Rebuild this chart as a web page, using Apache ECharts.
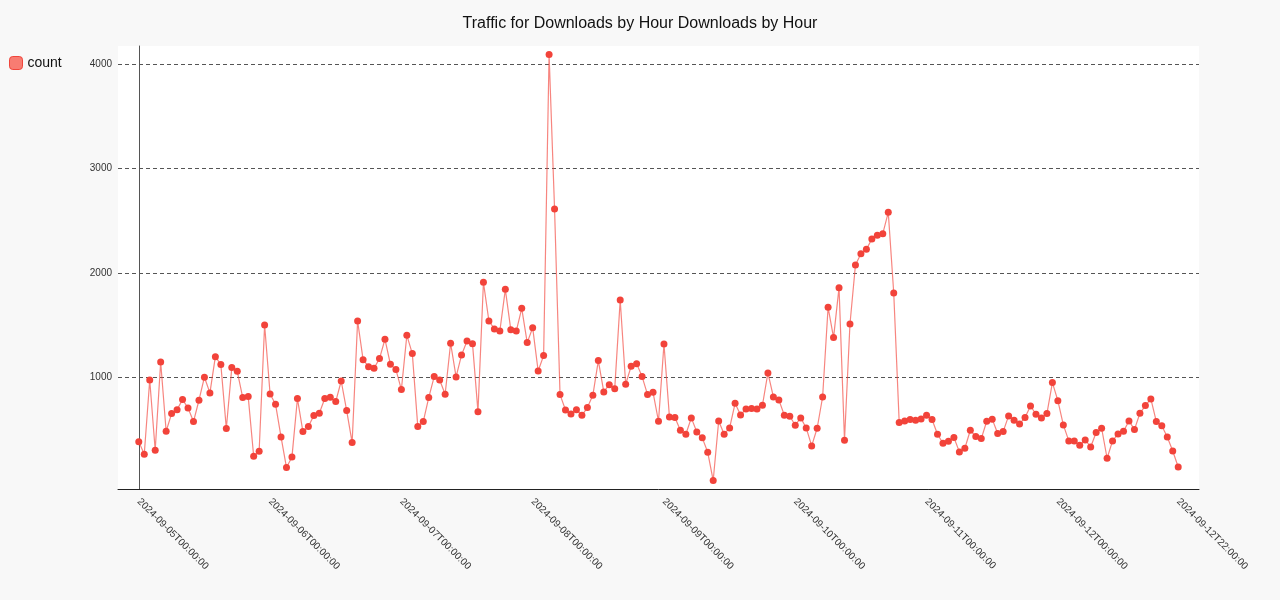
<!DOCTYPE html>
<html>
<head>
<meta charset="utf-8">
<script src="https://cdn.jsdelivr.net/npm/echarts@6/dist/echarts.min.js"></script>
<style>
html,body{margin:0;padding:0;background:#f8f8f8;}
#chart{width:1280px;height:600px;}
</style>
</head>
<body>
<div id="chart"></div>
<script>
// Hourly download counts, one array per day (index = hour of day)
const sep05 = [388,267,978,306,1150,487,656,694,790,710,580,784,1004,854,1201,1125,513,1096,1061,809,819,248,296,1504];
const sep06 = [844,745,433,140,242,800,484,532,637,659,800,812,771,968,685,379,1542,1172,1105,1090,1182,1367,1128,1077];
const sep07 = [886,1405,1230,532,580,809,1010,978,841,1329,1007,1217,1351,1325,675,1912,1542,1466,1446,1845,1459,1446,1663,1335];
const sep08 = [1478,1064,1211,4091,2613,838,691,653,694,640,714,831,1163,863,933,895,1743,937,1109,1134,1010,838,860,583];
const sep09 = [1322,624,618,497,459,615,481,424,286,16,586,459,519,755,643,701,704,701,736,1045,815,787,640,631];
const sep10 = [545,615,519,347,516,815,1673,1383,1861,401,1513,2077,2186,2227,2326,2361,2377,2581,1810,570,586,599,592,605];
const sep11 = [640,599,459,373,392,427,290,325,497,436,417,583,603,466,484,634,592,557,618,729,650,615,656,953];
const sep12 = [780,548,395,395,353,404,337,475,516,229,395,462,487,586,503,659,733,796,580,541,433,299,146];

const seriesName = 'count';
const titleText = 'Traffic for Downloads by Hour Downloads by Hour';

// x-axis tick labels and the hour offsets (from 2024-09-05T00:00:00) they sit at
const tickHours = [0,24,48,72,96,120,144,168,190];
const tickLabels = ['2024-09-05T00:00:00','2024-09-06T00:00:00','2024-09-07T00:00:00','2024-09-08T00:00:00',
  '2024-09-09T00:00:00','2024-09-10T00:00:00','2024-09-11T00:00:00','2024-09-12T00:00:00','2024-09-12T22:00:00'];

// y-axis labelled ticks
const yTicks = [1000,2000,3000,4000];

const counts = [].concat(sep05, sep06, sep07, sep08, sep09, sep10, sep11, sep12);
const points = counts.map((v, i) => [i, v]);

const FONT = '"Liberation Sans", Arial, Helvetica, sans-serif';
const chart = echarts.init(document.getElementById('chart'), null, {renderer: 'canvas'});
const transparent = 'rgba(0,0,0,0)';

chart.setOption({
  backgroundColor: '#f8f8f8',
  animation: false,
  textStyle: {fontFamily: FONT},
  title: {
    text: titleText,
    left: 'center',
    top: 11,
    textStyle: {fontSize: 16, fontWeight: 'normal', color: '#111', fontFamily: FONT}
  },
  legend: {
    left: 9,
    top: 56,
    padding: 0,
    orient: 'vertical',
    itemWidth: 13,
    itemHeight: 13,
    textStyle: {fontSize: 14, color: '#111', fontFamily: FONT},
    data: [{name: seriesName, icon: 'roundRect',
      itemStyle: {color: '#f87c72', borderColor: '#f0453b', borderWidth: 1}}]
  },
  grid: {
    left: 118, right: 81, top: 46, bottom: 111,
    show: true, backgroundColor: '#ffffff', borderWidth: 0
  },
  xAxis: {
    type: 'value',
    min: -3.8,
    max: 193.8,
    axisLine: {show: true, onZero: false, lineStyle: {color: '#222', width: 1}},
    axisTick: {show: false},
    splitLine: {show: false},
    axisLabel: {
      customValues: tickHours,
      rotate: -45,
      fontSize: 10,
      color: '#333',
      margin: 11,
      fontFamily: FONT,
      formatter: v => {
        const k = tickHours.indexOf(v);
        return k >= 0 ? tickLabels[k] : '';
      }
    }
  },
  yAxis: {
    type: 'value',
    min: -65,
    max: 4172,
    axisLine: {show: true, onZero: true, lineStyle: {color: '#555', width: 1}},
    axisTick: {show: false},
    axisLabel: {
      fontSize: 10,
      color: '#333',
      margin: 6,
      fontFamily: FONT,
      formatter: v => (yTicks.indexOf(v) >= 0 ? String(v) : '')
    },
    splitLine: {
      show: true,
      lineStyle: {
        type: [4, 3],
        width: 1,
        color: [transparent, transparent, '#555', '#555', '#555', '#555', transparent]
      }
    }
  },
  series: [{
    name: seriesName,
    type: 'line',
    data: points,
    symbol: 'circle',
    symbolSize: 7,
    showAllSymbol: true,
    itemStyle: {color: '#f2433a'},
    lineStyle: {color: 'rgba(242,67,58,0.65)', width: 1.2},
    emphasis: {disabled: true}
  }]
});
</script>
</body>
</html>
